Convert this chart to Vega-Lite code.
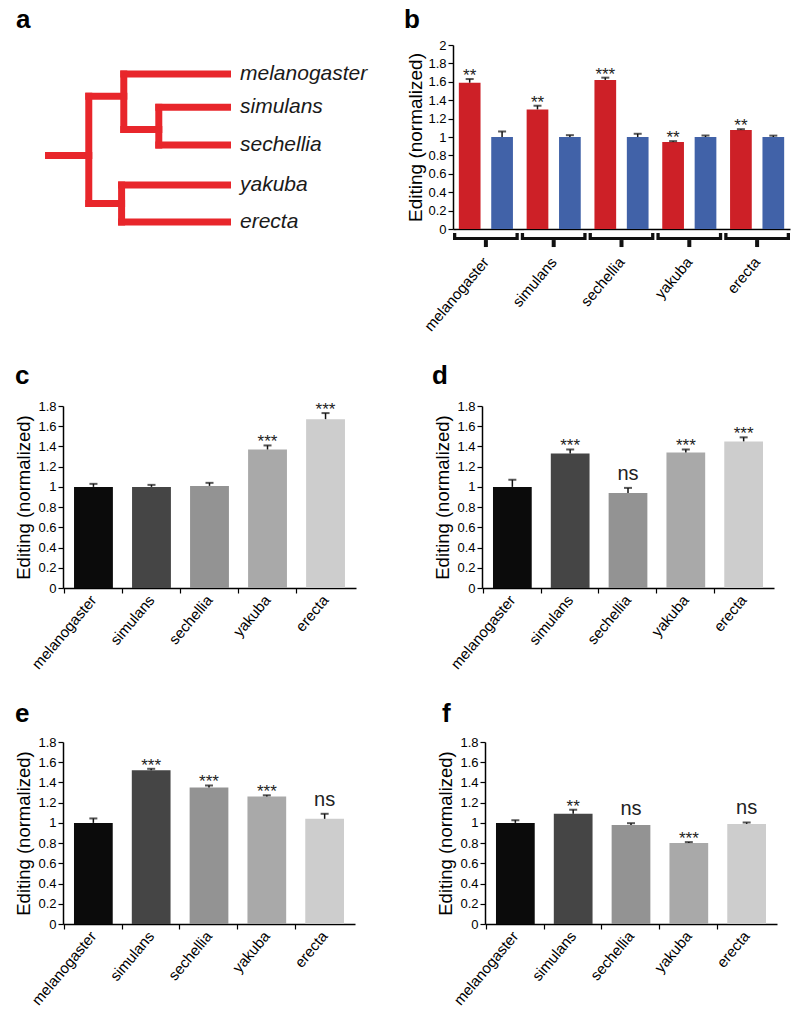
{
  "$schema": "https://vega.github.io/schema/vega-lite/v6.json",
  "padding": {"left": 14, "top": 6, "right": 5, "bottom": 5},
  "background": "white",
  "spacing": 29,
  "resolve": {"scale": {"color": "independent"}},
  "datasets": {
    "tree": [
      {"x": 0.08, "x2": 1, "y": 2.2, "y2": 2.2},
      {"x": 1, "x2": 1, "y": 0.6, "y2": 3.5},
      {"x": 1, "x2": 1.8, "y": 0.6, "y2": 0.6},
      {"x": 1.8, "x2": 1.8, "y": 0, "y2": 1.5},
      {"x": 1.8, "x2": 4.17, "y": 0, "y2": 0},
      {"x": 1.8, "x2": 2.6, "y": 1.5, "y2": 1.5},
      {"x": 2.6, "x2": 2.6, "y": 0.9, "y2": 1.92},
      {"x": 2.6, "x2": 4.17, "y": 0.9, "y2": 0.9},
      {"x": 2.6, "x2": 4.17, "y": 1.92, "y2": 1.92},
      {"x": 1, "x2": 1.75, "y": 3.5, "y2": 3.5},
      {"x": 1.75, "x2": 1.75, "y": 3, "y2": 4},
      {"x": 1.75, "x2": 4.17, "y": 3, "y2": 3},
      {"x": 1.75, "x2": 4.17, "y": 4, "y2": 4}
    ],
    "leaves": [
      {"species": "melanogaster", "y": 0},
      {"species": "simulans", "y": 0.9},
      {"species": "sechellia", "y": 1.92},
      {"species": "yakuba", "y": 3},
      {"species": "erecta", "y": 4}
    ],
    "b": [
      {"species": "melanogaster", "cond": "test", "value": 1.59, "hi": 1.63, "sig": "**"},
      {"species": "melanogaster", "cond": "reference", "value": 1.0, "hi": 1.06, "sig": ""},
      {"species": "simulans", "cond": "test", "value": 1.3, "hi": 1.34, "sig": "**"},
      {"species": "simulans", "cond": "reference", "value": 1.0, "hi": 1.02, "sig": ""},
      {"species": "sechellia", "cond": "test", "value": 1.62, "hi": 1.645, "sig": "***"},
      {"species": "sechellia", "cond": "reference", "value": 1.0, "hi": 1.035, "sig": ""},
      {"species": "yakuba", "cond": "test", "value": 0.945, "hi": 0.955, "sig": "**"},
      {"species": "yakuba", "cond": "reference", "value": 1.0, "hi": 1.015, "sig": ""},
      {"species": "erecta", "cond": "test", "value": 1.075, "hi": 1.085, "sig": "**"},
      {"species": "erecta", "cond": "reference", "value": 1.0, "hi": 1.015, "sig": ""}
    ],
    "c": [
      {"species": "melanogaster", "value": 1.0, "hi": 1.03, "sig": ""},
      {"species": "simulans", "value": 1.0, "hi": 1.02, "sig": ""},
      {"species": "sechellia", "value": 1.01, "hi": 1.04, "sig": ""},
      {"species": "yakuba", "value": 1.37, "hi": 1.41, "sig": "***"},
      {"species": "erecta", "value": 1.67, "hi": 1.73, "sig": "***"}
    ],
    "d": [
      {"species": "melanogaster", "value": 1.0, "hi": 1.07, "sig": ""},
      {"species": "simulans", "value": 1.33, "hi": 1.37, "sig": "***"},
      {"species": "sechellia", "value": 0.94, "hi": 0.99, "sig": "ns"},
      {"species": "yakuba", "value": 1.34, "hi": 1.37, "sig": "***"},
      {"species": "erecta", "value": 1.45, "hi": 1.49, "sig": "***"}
    ],
    "e": [
      {"species": "melanogaster", "value": 1.0, "hi": 1.044, "sig": ""},
      {"species": "simulans", "value": 1.52, "hi": 1.535, "sig": "***"},
      {"species": "sechellia", "value": 1.35, "hi": 1.37, "sig": "***"},
      {"species": "yakuba", "value": 1.26, "hi": 1.273, "sig": "***"},
      {"species": "erecta", "value": 1.04, "hi": 1.09, "sig": "ns"}
    ],
    "f": [
      {"species": "melanogaster", "value": 1.0, "hi": 1.027, "sig": ""},
      {"species": "simulans", "value": 1.09, "hi": 1.13, "sig": "**"},
      {"species": "sechellia", "value": 0.98, "hi": 0.997, "sig": "ns"},
      {"species": "yakuba", "value": 0.8, "hi": 0.81, "sig": "***"},
      {"species": "erecta", "value": 0.99, "hi": 1.004, "sig": "ns"}
    ]
  },
  "vconcat": [
    {
      "hconcat": [
        {
          "width": 168,
          "height": 184,
          "title": {"text": "a", "frame": "group", "dx": -47, "offset": 12.5},
          "layer": [
            {
              "data": {"name": "tree"},
              "mark": {"type": "rule", "color": "#e8262b", "strokeWidth": 7, "strokeCap": "square"},
              "encoding": {
                "x": {"field": "x", "type": "quantitative", "scale": {"domain": [0.411, 4.25], "nice": false, "zero": false}, "axis": null},
                "x2": {"field": "x2"},
                "y": {"field": "y", "type": "quantitative", "scale": {"domain": [-0.784, 4.189], "nice": false, "zero": false, "reverse": true}, "axis": null},
                "y2": {"field": "y2"}
              }
            },
            {
              "data": {"name": "leaves"},
              "mark": {"type": "text", "fontSize": 21, "fontStyle": "italic", "align": "left", "baseline": "middle", "dx": 9, "color": "#1a1a1a"},
              "encoding": {
                "x": {"datum": 4.25, "type": "quantitative"},
                "y": {"field": "y", "type": "quantitative"},
                "text": {"field": "species"}
              }
            }
          ]
        },
        {
          "data": {"name": "b"},
          "width": 337,
          "height": 184,
          "title": {"text": "b", "frame": "bounds", "dx": -3, "offset": 6},
          "encoding": {
            "x": {"field": "species", "type": "nominal", "scale": {"domain": ["melanogaster", "simulans", "sechellia", "yakuba", "erecta"], "paddingInner": 0.03, "paddingOuter": 0.0}, "axis": {"title": null, "labelAngle": -50, "labelFontSize": 15, "labelPadding": 30, "ticks": false, "labelOverlap": false}}
          },
          "layer": [
            {
              "mark": {"type": "bar"},
              "encoding": {
                "xOffset": {"field": "cond", "type": "nominal", "scale": {"domain": ["test", "reference"], "paddingInner": 0.33, "paddingOuter": 0.18}},
                "y": {"field": "value", "type": "quantitative", "scale": {"domain": [0, 2], "nice": false}, "axis": {"title": "Editing (normalized)", "values": [0, 0.2, 0.4, 0.6, 0.8, 1, 1.2, 1.4, 1.6, 1.8, 2], "tickCount": 12, "format": "~g", "titleFontSize": 19, "labelFontSize": 13, "tickSize": 5, "labelPadding": 2, "titlePadding": 2, "labelOverlap": false}},
                "color": {"field": "cond", "type": "nominal", "scale": {"domain": ["test", "reference"], "range": ["#cd2027", "#4162a8"]}, "legend": null}
              }
            },
            {
              "mark": {"type": "rule", "color": "#111", "strokeWidth": 1.5},
              "encoding": {
                "xOffset": {"field": "cond", "type": "nominal"},
                "y": {"field": "value", "type": "quantitative"},
                "y2": {"field": "hi"}
              }
            },
            {
              "mark": {"type": "tick", "color": "#111", "thickness": 2, "size": 8},
              "encoding": {
                "xOffset": {"field": "cond", "type": "nominal"},
                "y": {"field": "hi", "type": "quantitative"}
              }
            },
            {
              "transform": [{"filter": "indexof(datum.sig, '*') >= 0"}],
              "mark": {"type": "text", "fontSize": 17, "color": "#222", "baseline": "alphabetic", "dy": 2},
              "encoding": {
                "xOffset": {"field": "cond", "type": "nominal"},
                "y": {"field": "hi", "type": "quantitative"},
                "text": {"field": "sig"}
              }
            },
            {
              "transform": [{"filter": "datum.cond === 'test'"}],
              "mark": {"type": "bar", "color": "#111"},
              "encoding": {
                "y": {"datum": -0.043, "type": "quantitative"},
                "y2": {"datum": -0.12}
              }
            },
            {
              "transform": [{"filter": "datum.cond === 'test'"}],
              "mark": {"type": "bar", "color": "white", "width": {"band": 0.9}},
              "encoding": {
                "y": {"datum": -0.02, "type": "quantitative"},
                "y2": {"datum": -0.087}
              }
            },
            {
              "transform": [{"filter": "datum.cond === 'test'"}],
              "mark": {"type": "bar", "color": "#111", "width": 4},
              "encoding": {
                "y": {"datum": -0.12, "type": "quantitative"},
                "y2": {"datum": -0.196}
              }
            }
          ]
        }
      ],
      "spacing": 35
    },
    {
      "hconcat": [
        {
          "data": {"name": "c"},
          "width": 293,
          "height": 182,
          "title": {"text": "c", "frame": "bounds", "offset": 11},
          "encoding": {
            "x": {"field": "species", "type": "nominal", "scale": {"domain": ["melanogaster", "simulans", "sechellia", "yakuba", "erecta"], "paddingInner": 0.33, "paddingOuter": 0.19}, "axis": {"title": null, "labelAngle": -50, "labelFontSize": 15, "labelPadding": 4, "tickSize": 5, "bandPosition": -0.25, "labelOverlap": false}}
          },
          "layer": [
            {
              "mark": {"type": "bar"},
              "encoding": {
                "y": {"field": "value", "type": "quantitative", "scale": {"domain": [0, 1.8], "nice": false}, "axis": {"title": "Editing (normalized)", "values": [0, 0.2, 0.4, 0.6, 0.8, 1, 1.2, 1.4, 1.6, 1.8], "tickCount": 12, "format": "~g", "titleFontSize": 18.5, "labelFontSize": 13, "tickSize": 5, "labelPadding": 2, "titlePadding": 4, "labelOverlap": false}},
                "color": {"field": "species", "type": "nominal", "scale": {"domain": ["melanogaster", "simulans", "sechellia", "yakuba", "erecta"], "range": ["#0b0b0b", "#454545", "#939393", "#a9a9a9", "#cdcdcd"]}, "legend": null}
              }
            },
            {"mark": {"type": "rule", "color": "#111", "strokeWidth": 1.5}, "encoding": {"y": {"field": "value", "type": "quantitative"}, "y2": {"field": "hi"}}},
            {"mark": {"type": "tick", "color": "#111", "thickness": 2, "size": 8}, "encoding": {"y": {"field": "hi", "type": "quantitative"}}},
            {"transform": [{"filter": "indexof(datum.sig, '*') >= 0"}], "mark": {"type": "text", "fontSize": 17, "color": "#222", "baseline": "alphabetic", "dy": 2}, "encoding": {"y": {"field": "hi", "type": "quantitative"}, "text": {"field": "sig"}}},
            {"transform": [{"filter": "datum.sig === 'ns'"}], "mark": {"type": "text", "fontSize": 20, "color": "#222", "baseline": "alphabetic", "dy": -8}, "encoding": {"y": {"field": "hi", "type": "quantitative"}, "text": {"field": "sig"}}}
          ]
        },
        {
          "data": {"name": "d"},
          "width": 292,
          "height": 182,
          "title": {"text": "d", "frame": "bounds", "dx": -2, "offset": 11},
          "encoding": {
            "x": {"field": "species", "type": "nominal", "scale": {"domain": ["melanogaster", "simulans", "sechellia", "yakuba", "erecta"], "paddingInner": 0.33, "paddingOuter": 0.19}, "axis": {"title": null, "labelAngle": -50, "labelFontSize": 15, "labelPadding": 4, "tickSize": 5, "bandPosition": -0.25, "labelOverlap": false}}
          },
          "layer": [
            {
              "mark": {"type": "bar"},
              "encoding": {
                "y": {"field": "value", "type": "quantitative", "scale": {"domain": [0, 1.8], "nice": false}, "axis": {"title": "Editing (normalized)", "values": [0, 0.2, 0.4, 0.6, 0.8, 1, 1.2, 1.4, 1.6, 1.8], "tickCount": 12, "format": "~g", "titleFontSize": 18.5, "labelFontSize": 13, "tickSize": 5, "labelPadding": 2, "titlePadding": 4, "labelOverlap": false}},
                "color": {"field": "species", "type": "nominal", "scale": {"domain": ["melanogaster", "simulans", "sechellia", "yakuba", "erecta"], "range": ["#0b0b0b", "#454545", "#939393", "#a9a9a9", "#cdcdcd"]}, "legend": null}
              }
            },
            {"mark": {"type": "rule", "color": "#111", "strokeWidth": 1.5}, "encoding": {"y": {"field": "value", "type": "quantitative"}, "y2": {"field": "hi"}}},
            {"mark": {"type": "tick", "color": "#111", "thickness": 2, "size": 8}, "encoding": {"y": {"field": "hi", "type": "quantitative"}}},
            {"transform": [{"filter": "indexof(datum.sig, '*') >= 0"}], "mark": {"type": "text", "fontSize": 17, "color": "#222", "baseline": "alphabetic", "dy": 2}, "encoding": {"y": {"field": "hi", "type": "quantitative"}, "text": {"field": "sig"}}},
            {"transform": [{"filter": "datum.sig === 'ns'"}], "mark": {"type": "text", "fontSize": 20, "color": "#222", "baseline": "alphabetic", "dy": -8}, "encoding": {"y": {"field": "hi", "type": "quantitative"}, "text": {"field": "sig"}}}
          ]
        }
      ],
      "spacing": 75
    },
    {
      "hconcat": [
        {
          "data": {"name": "e"},
          "width": 292,
          "height": 182,
          "title": {"text": "e", "frame": "bounds", "offset": 9},
          "encoding": {
            "x": {"field": "species", "type": "nominal", "scale": {"domain": ["melanogaster", "simulans", "sechellia", "yakuba", "erecta"], "paddingInner": 0.33, "paddingOuter": 0.19}, "axis": {"title": null, "labelAngle": -50, "labelFontSize": 15, "labelPadding": 4, "tickSize": 5, "bandPosition": -0.25, "labelOverlap": false}}
          },
          "layer": [
            {
              "mark": {"type": "bar"},
              "encoding": {
                "y": {"field": "value", "type": "quantitative", "scale": {"domain": [0, 1.8], "nice": false}, "axis": {"title": "Editing (normalized)", "values": [0, 0.2, 0.4, 0.6, 0.8, 1, 1.2, 1.4, 1.6, 1.8], "tickCount": 12, "format": "~g", "titleFontSize": 18.5, "labelFontSize": 13, "tickSize": 5, "labelPadding": 2, "titlePadding": 4, "labelOverlap": false}},
                "color": {"field": "species", "type": "nominal", "scale": {"domain": ["melanogaster", "simulans", "sechellia", "yakuba", "erecta"], "range": ["#0b0b0b", "#454545", "#939393", "#a9a9a9", "#cdcdcd"]}, "legend": null}
              }
            },
            {"mark": {"type": "rule", "color": "#111", "strokeWidth": 1.5}, "encoding": {"y": {"field": "value", "type": "quantitative"}, "y2": {"field": "hi"}}},
            {"mark": {"type": "tick", "color": "#111", "thickness": 2, "size": 8}, "encoding": {"y": {"field": "hi", "type": "quantitative"}}},
            {"transform": [{"filter": "indexof(datum.sig, '*') >= 0"}], "mark": {"type": "text", "fontSize": 17, "color": "#222", "baseline": "alphabetic", "dy": 2}, "encoding": {"y": {"field": "hi", "type": "quantitative"}, "text": {"field": "sig"}}},
            {"transform": [{"filter": "datum.sig === 'ns'"}], "mark": {"type": "text", "fontSize": 20, "color": "#222", "baseline": "alphabetic", "dy": -8}, "encoding": {"y": {"field": "hi", "type": "quantitative"}, "text": {"field": "sig"}}}
          ]
        },
        {
          "data": {"name": "f"},
          "width": 292,
          "height": 182,
          "title": {"text": "f", "frame": "bounds", "dx": 5, "offset": 9},
          "encoding": {
            "x": {"field": "species", "type": "nominal", "scale": {"domain": ["melanogaster", "simulans", "sechellia", "yakuba", "erecta"], "paddingInner": 0.33, "paddingOuter": 0.19}, "axis": {"title": null, "labelAngle": -50, "labelFontSize": 15, "labelPadding": 4, "tickSize": 5, "bandPosition": -0.25, "labelOverlap": false}}
          },
          "layer": [
            {
              "mark": {"type": "bar"},
              "encoding": {
                "y": {"field": "value", "type": "quantitative", "scale": {"domain": [0, 1.8], "nice": false}, "axis": {"title": "Editing (normalized)", "values": [0, 0.2, 0.4, 0.6, 0.8, 1, 1.2, 1.4, 1.6, 1.8], "tickCount": 12, "format": "~g", "titleFontSize": 18.5, "labelFontSize": 13, "tickSize": 5, "labelPadding": 2, "titlePadding": 4, "labelOverlap": false}},
                "color": {"field": "species", "type": "nominal", "scale": {"domain": ["melanogaster", "simulans", "sechellia", "yakuba", "erecta"], "range": ["#0b0b0b", "#454545", "#939393", "#a9a9a9", "#cdcdcd"]}, "legend": null}
              }
            },
            {"mark": {"type": "rule", "color": "#111", "strokeWidth": 1.5}, "encoding": {"y": {"field": "value", "type": "quantitative"}, "y2": {"field": "hi"}}},
            {"mark": {"type": "tick", "color": "#111", "thickness": 2, "size": 8}, "encoding": {"y": {"field": "hi", "type": "quantitative"}}},
            {"transform": [{"filter": "indexof(datum.sig, '*') >= 0"}], "mark": {"type": "text", "fontSize": 17, "color": "#222", "baseline": "alphabetic", "dy": 2}, "encoding": {"y": {"field": "hi", "type": "quantitative"}, "text": {"field": "sig"}}},
            {"transform": [{"filter": "datum.sig === 'ns'"}], "mark": {"type": "text", "fontSize": 20, "color": "#222", "baseline": "alphabetic", "dy": -8}, "encoding": {"y": {"field": "hi", "type": "quantitative"}, "text": {"field": "sig"}}}
          ]
        }
      ],
      "spacing": 81
    }
  ],
  "config": {
    "font": "Liberation Sans",
    "view": {"stroke": null},
    "axis": {"domainColor": "#000", "tickColor": "#000", "labelColor": "#000", "titleColor": "#000", "grid": false, "labelFont": "Liberation Sans", "titleFont": "Liberation Sans", "titleFontWeight": "normal", "domainWidth": 1.5, "tickWidth": 1.2, "labelOverlap": false},
    "title": {"fontSize": 26, "fontWeight": "bold", "anchor": "start", "color": "#000", "font": "Liberation Sans"}
  }
}
